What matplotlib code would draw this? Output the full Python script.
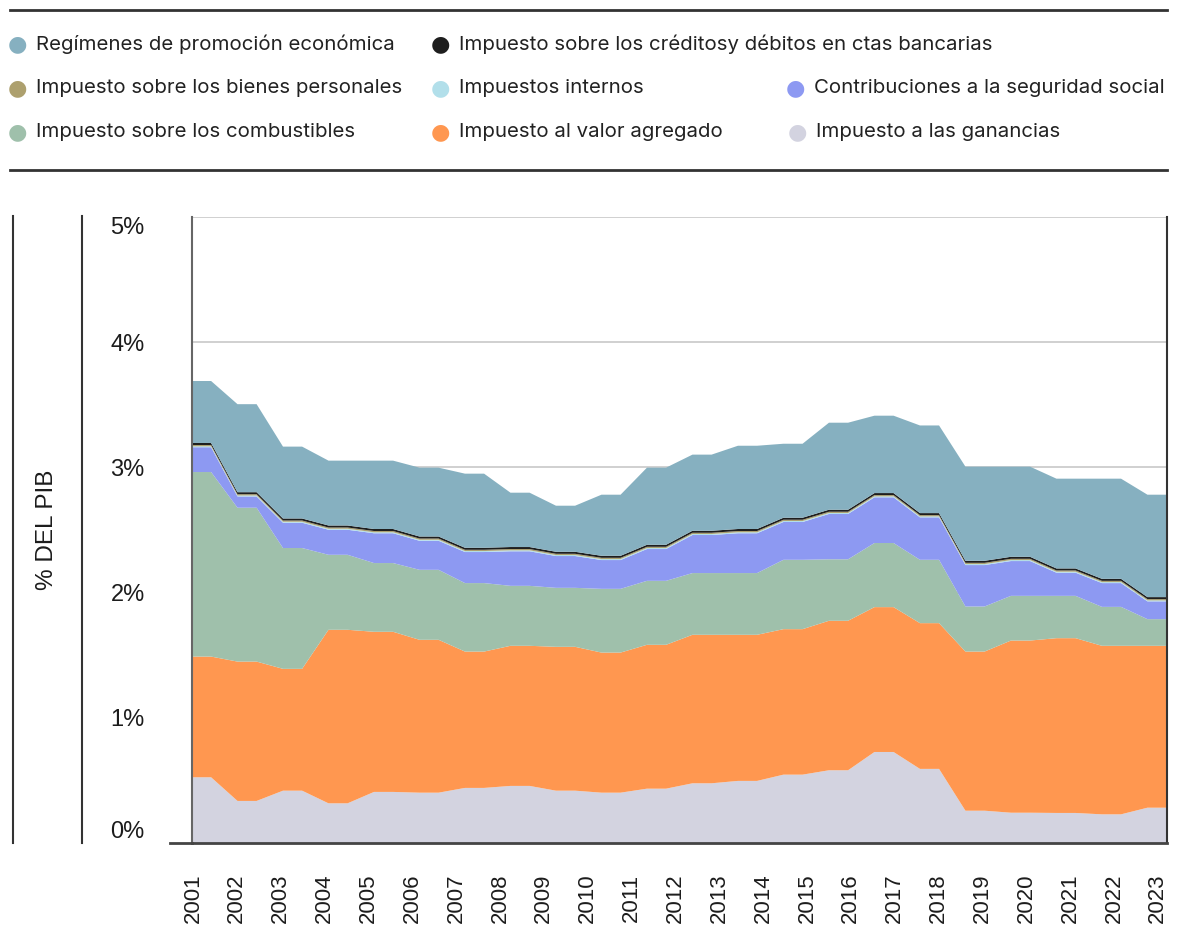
import numpy as np
import matplotlib.pyplot as plt
from matplotlib.lines import Line2D

plt.rcParams['font.family'] = ['Liberation Sans', 'DejaVu Sans']

# etiquetas del eje x
anios = list(range(2001, 2024))

# valores en % del PIB, un valor por periodo
ganancias = [0.525, 0.336, 0.418, 0.317, 0.408, 0.402, 0.440, 0.456, 0.418, 0.402, 0.434,
             0.477, 0.496, 0.546, 0.581, 0.727, 0.592, 0.258, 0.242, 0.240, 0.229, 0.282]
iva = [0.964, 1.113, 0.973, 1.386, 1.279, 1.221, 1.089, 1.119, 1.149, 1.119, 1.149,
       1.186, 1.167, 1.162, 1.194, 1.157, 1.164, 1.271, 1.375, 1.396, 1.346, 1.293]
combustibles = [1.474, 1.229, 0.965, 0.599, 0.549, 0.559, 0.547, 0.479, 0.471, 0.509, 0.511,
                0.493, 0.493, 0.554, 0.491, 0.512, 0.506, 0.360, 0.357, 0.338, 0.311, 0.213]
contribuciones = [0.198, 0.090, 0.202, 0.200, 0.238, 0.232, 0.248, 0.276, 0.254, 0.230, 0.254,
                  0.304, 0.318, 0.302, 0.362, 0.365, 0.339, 0.331, 0.278, 0.185, 0.190, 0.142]
internos = [0.008] * 22
bienes = [0.010] * 22
creditos = [0.016] * 22
regimenes = [0.495, 0.703, 0.574, 0.518, 0.546, 0.550, 0.592, 0.434, 0.368, 0.488, 0.616,
             0.608, 0.665, 0.591, 0.695, 0.618, 0.700, 0.752, 0.720, 0.717, 0.800, 0.818]

series = [ganancias, iva, combustibles, contribuciones, internos, bienes, creditos, regimenes]
colores = ['#d3d3e0', '#ff9750', '#9fc0ab', '#8d99f2', '#b2dfea', '#ada06e', '#1e1e1e', '#86b0c0']

# cada periodo se dibuja como un tramo plano
x = []
for k in range(len(ganancias)):
    x += [k, k + 0.42]
ys = [np.repeat(s, 2) for s in series]

fig = plt.figure(figsize=(11.77, 9.26), dpi=100)
ax = fig.add_axes([192 / 1177, 1 - 843 / 926, 975 / 1177, 626 / 926])
ax.stackplot(x, *ys, colors=colores, linewidth=0)
ax.set_xlim(0, 21.43)
ax.set_ylim(0, 5)
ax.set_xticks([])
ax.set_yticks([0, 1, 2, 3, 4, 5])
ax.set_yticklabels([f'{v}%' for v in range(6)])
ax.tick_params(axis='y', length=0, pad=34, labelsize=17, labelcolor='#1c1c1c')
etiquetas_y = ax.get_yticklabels()
etiquetas_y[0].set_va('bottom')
etiquetas_y[-1].set_va('top')
ax.yaxis.grid(True, color='#c8c8c8', lw=1.2)
ax.set_axisbelow(True)
ax.spines['top'].set_visible(False)
ax.spines['left'].set_color('#666666')
ax.spines['left'].set_linewidth(1.5)
ax.spines['right'].set_color('#333333')
ax.spines['right'].set_linewidth(1.5)
ax.spines['bottom'].set_color('#444444')
ax.spines['bottom'].set_linewidth(2)

# eje de años
ax_anio = ax.twiny()
ax_anio.set_xlim(2000.98, 2023.21)
ax_anio.xaxis.set_ticks_position('bottom')
ax_anio.xaxis.set_label_position('bottom')
ax_anio.set_xticks(anios)
ax_anio.set_xticklabels([str(a) for a in anios], rotation=90)
ax_anio.tick_params(axis='x', length=0, pad=22, labelsize=16, labelcolor='#1c1c1c')
for s in ax_anio.spines.values():
    s.set_visible(False)

# la línea base sigue un poco a la izquierda del eje
fig.add_artist(Line2D([170 / 1177, 192 / 1177], [1 - 843 / 926, 1 - 843 / 926],
                      color='#444444', lw=2))

# decoraciones a la izquierda
for xp in [13, 82]:
    fig.add_artist(Line2D([xp / 1177, xp / 1177], [1 - 216 / 926, 1 - 843 / 926],
                          color='#333333', lw=1.5))
fig.text(47 / 1177, 1 - 530 / 926, '% DEL PIB', rotation=90, ha='center', va='center',
         fontsize=17.5, color='#1c1c1c')

# leyenda
for yp in [10, 170]:
    fig.add_artist(Line2D([10 / 1177, 1167 / 1177], [1 - yp / 926, 1 - yp / 926],
                          color='#333333', lw=2))
nombres = ['Regímenes de promoción económica',
           'Impuesto sobre los créditosy débitos en ctas bancarias',
           'Impuesto sobre los bienes personales', 'Impuestos internos',
           'Contribuciones a la seguridad social',
           'Impuesto sobre los combustibles', 'Impuesto al valor agregado',
           'Impuesto a las ganancias']
col_ley = ['#86b0c0', '#1e1e1e', '#ada06e', '#b2dfea', '#8d99f2', '#9fc0ab', '#ff9750', '#d3d3e0']
pos_ley = [(17, 44), (440, 44), (17, 88), (440, 88), (795, 88), (17, 132), (440, 132), (797, 132)]
for nom, c, (px, py) in zip(nombres, col_ley, pos_ley):
    fig.text(px / 1177, 1 - py / 926, '●', color=c, fontsize=16, ha='center', va='center',
             family=['DejaVu Sans'])
    fig.text((px + 19) / 1177, 1 - py / 926, nom, color='#222222', fontsize=14.7,
             ha='left', va='center', family=['Inter', 'DejaVu Sans'])

fig.savefig('out.png', dpi=100)
